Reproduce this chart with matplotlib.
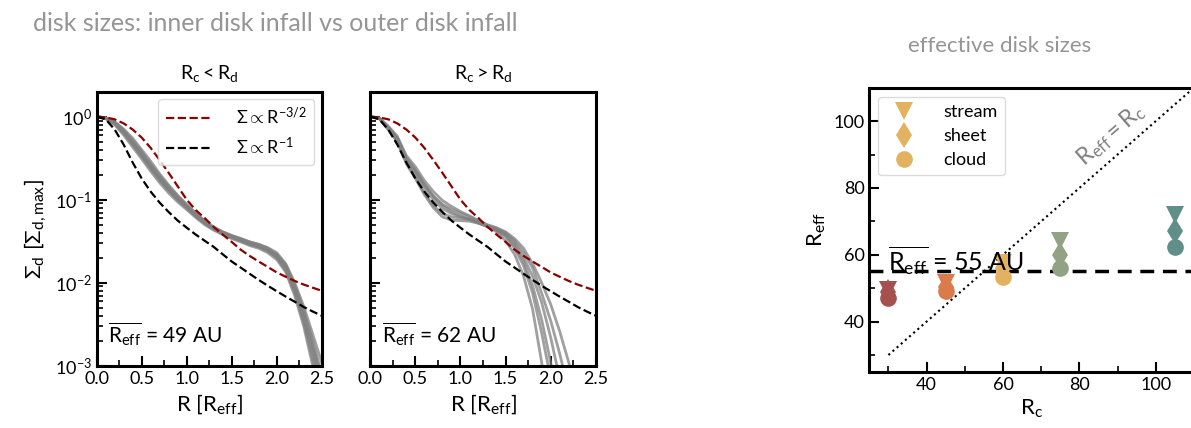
import numpy as np
import matplotlib
matplotlib.use("Agg")
import matplotlib.pyplot as plt
from matplotlib.ticker import MultipleLocator, LogLocator, NullFormatter

plt.rcParams['font.family'] = ['Lato', 'DejaVu Sans']
plt.rcParams['mathtext.fontset'] = 'custom'
plt.rcParams['mathtext.rm'] = 'Lato'
plt.rcParams['mathtext.it'] = 'Lato'
plt.rcParams['mathtext.bf'] = 'Lato:bold'

# radial grid [R_eff]
r_grid = [0.0, 0.1, 0.2, 0.3, 0.4, 0.5, 0.6, 0.7, 0.8, 0.9, 1.0, 1.1, 1.2,
          1.3, 1.4, 1.5, 1.6, 1.7, 1.8, 1.9, 2.0, 2.1, 2.2, 2.3, 2.4, 2.5]

# reference power-law profiles
sigma_r15 = [1.0, 0.98, 0.93, 0.83, 0.70, 0.56, 0.42, 0.30, 0.21, 0.145, 0.100,
             0.075, 0.060, 0.047, 0.038, 0.031, 0.025, 0.021, 0.018, 0.0155,
             0.0133, 0.0118, 0.0105, 0.0095, 0.0087, 0.0080]
sigma_r1 = [1.0, 0.93, 0.70, 0.46, 0.28, 0.18, 0.125, 0.092, 0.071, 0.056, 0.046,
            0.038, 0.032, 0.027, 0.022, 0.018, 0.0152, 0.0128, 0.0108, 0.0092,
            0.0079, 0.0068, 0.0059, 0.0051, 0.0045, 0.0040]

# simulated profiles, R_c < R_d
inner_profiles = [
    [1.0, 0.96, 0.84, 0.66, 0.49, 0.35, 0.25, 0.18, 0.135, 0.104, 0.082, 0.065, 0.053,
     0.045, 0.040, 0.036, 0.033, 0.030, 0.028, 0.025, 0.021, 0.0155, 0.0085, 0.0040, 0.0016, 0.0006],
    [1.0, 0.95, 0.82, 0.63, 0.46, 0.33, 0.235, 0.17, 0.128, 0.099, 0.079, 0.063, 0.052,
     0.044, 0.039, 0.035, 0.032, 0.029, 0.027, 0.024, 0.020, 0.014, 0.0075, 0.0033, 0.0012, 0.0004],
    [1.0, 0.97, 0.86, 0.69, 0.52, 0.38, 0.27, 0.195, 0.145, 0.11, 0.086, 0.068, 0.055,
     0.046, 0.041, 0.037, 0.034, 0.031, 0.029, 0.026, 0.022, 0.0165, 0.0095, 0.0047, 0.0020, 0.0008],
    [1.0, 0.96, 0.83, 0.64, 0.47, 0.34, 0.245, 0.178, 0.132, 0.101, 0.080, 0.064, 0.052,
     0.044, 0.039, 0.035, 0.032, 0.029, 0.027, 0.0245, 0.0205, 0.0148, 0.0080, 0.0036, 0.0014, 0.0005],
    [1.0, 0.95, 0.80, 0.60, 0.43, 0.31, 0.22, 0.16, 0.12, 0.094, 0.076, 0.061, 0.050,
     0.043, 0.038, 0.034, 0.031, 0.028, 0.026, 0.023, 0.019, 0.0135, 0.0070, 0.0030, 0.0010, 0.0003],
    [1.0, 0.97, 0.87, 0.71, 0.55, 0.40, 0.29, 0.205, 0.15, 0.113, 0.088, 0.069, 0.056,
     0.047, 0.041, 0.037, 0.034, 0.031, 0.029, 0.0265, 0.023, 0.017, 0.010, 0.0052, 0.0024, 0.0011],
    [1.0, 0.96, 0.85, 0.67, 0.50, 0.36, 0.26, 0.185, 0.138, 0.106, 0.083, 0.066, 0.054,
     0.045, 0.040, 0.036, 0.033, 0.030, 0.028, 0.0255, 0.0215, 0.016, 0.009, 0.0043, 0.0018, 0.0007],
]

# simulated profiles, R_c > R_d
outer_profiles = [
    [1.0, 0.95, 0.70, 0.50, 0.28, 0.19, 0.12, 0.085, 0.068, 0.062, 0.060, 0.058, 0.054,
     0.048, 0.041, 0.032, 0.022, 0.012, 0.0048, 0.0011, 0.0002],
    [1.0, 0.96, 0.73, 0.53, 0.30, 0.21, 0.14, 0.10, 0.078, 0.068, 0.062, 0.058, 0.053,
     0.048, 0.043, 0.036, 0.026, 0.016, 0.0075, 0.0025, 0.0007],
    [1.0, 0.96, 0.75, 0.56, 0.32, 0.23, 0.155, 0.11, 0.085, 0.072, 0.064, 0.058, 0.052,
     0.047, 0.043, 0.037, 0.028, 0.018, 0.0092, 0.0036, 0.0011, 0.0002],
    [1.0, 0.95, 0.70, 0.50, 0.27, 0.18, 0.115, 0.08, 0.062, 0.057, 0.056, 0.055, 0.052,
     0.048, 0.044, 0.039, 0.030, 0.020, 0.012, 0.0058, 0.0022, 0.0007],
    [1.0, 0.96, 0.74, 0.54, 0.31, 0.22, 0.15, 0.11, 0.088, 0.077, 0.069, 0.062, 0.055,
     0.049, 0.045, 0.040, 0.032, 0.023, 0.015, 0.0075, 0.0035, 0.0014, 0.0005],
    [1.0, 0.97, 0.77, 0.58, 0.34, 0.25, 0.17, 0.125, 0.098, 0.083, 0.072, 0.064, 0.056,
     0.050, 0.046, 0.041, 0.034, 0.026, 0.017, 0.010, 0.0055, 0.0026, 0.0011, 0.0004],
]

# effective disk sizes
rc_values = [30, 45, 60, 75, 105]
reff_stream = [49.5, 51.5, 57.5, 64.0, 72.0]
reff_sheet = [49.0, 50.5, 56.0, 60.0, 67.0]
reff_cloud = [47.2, 49.2, 53.3, 56.1, 62.3]
rc_colors = ['#a5524f', '#d97c4a', '#e2b260', '#91a384', '#608f89']
reff_mean = 55

fig = plt.figure(figsize=(11.91, 4.28), dpi=100)
ax1 = fig.add_axes([0.0812, 0.1456, 0.1889, 0.6401])
ax2 = fig.add_axes([0.3109, 0.1456, 0.1893, 0.6401])
ax3 = fig.add_axes([0.7299, 0.1315, 0.2726, 0.6636])

panels = [(ax1, inner_profiles, r'$\mathrm{R_c < R_d}$', 49),
          (ax2, outer_profiles, r'$\mathrm{R_c > R_d}$', 62)]
for ax, profiles, title, reff in panels:
    for prof in profiles:
        ax.plot(r_grid[:len(prof)], prof, color='gray', alpha=0.75, lw=2)
    ax.plot(r_grid, sigma_r15, '--', color='darkred', lw=1.6, label=r'$\Sigma \propto \mathrm{R^{-3/2}}$')
    ax.plot(r_grid, sigma_r1, '--', color='black', lw=1.6, label=r'$\Sigma \propto \mathrm{R^{-1}}$')
    ax.set_yscale('log')
    ax.set_xlim(0, 2.5)
    ax.set_ylim(1e-3, 2)
    ax.set_title(title, fontsize=14, pad=9)
    ax.set_xlabel(r'R [$\mathrm{R_{eff}}$]', fontsize=16)
    ax.xaxis.set_major_locator(MultipleLocator(0.5))
    ax.xaxis.set_minor_locator(MultipleLocator(0.25))
    ax.yaxis.set_major_locator(LogLocator(base=10, numticks=10))
    ax.yaxis.set_minor_locator(LogLocator(base=10, subs=np.arange(2, 10), numticks=10))
    ax.yaxis.set_minor_formatter(NullFormatter())
    ax.tick_params(which='both', direction='in', labelsize=13)
    ax.tick_params(which='major', length=7, width=1.5)
    ax.tick_params(which='minor', length=4, width=1.2)
    for sp in ax.spines.values():
        sp.set_linewidth(2.2)
    ax.text(0.05, 0.085, r'$\overline{\mathrm{R_{eff}}}$ = %d AU' % reff, transform=ax.transAxes,
            fontsize=15)

ax1.set_ylabel(r'$\Sigma_\mathrm{d}\ [\Sigma_\mathrm{d,max}]$', fontsize=16)
ax2.tick_params(labelleft=False)
ax1.legend(loc='upper right', fontsize=13, handlelength=2.5, handletextpad=1.4,
           borderaxespad=0.4, edgecolor='lightgray')

# right panel
ax3.plot([30, 110], [30, 110], ':', color='black', lw=1.5)
ax3.axhline(reff_mean, ls='--', color='black', lw=2.5, dashes=(4, 2.5))
for i in range(len(rc_values)):
    ax3.plot(rc_values[i], reff_stream[i], 'v', color=rc_colors[i], ms=12.5, mew=0)
    ax3.plot(rc_values[i], reff_sheet[i], 'd', color=rc_colors[i], ms=13, mew=0)
    ax3.plot(rc_values[i], reff_cloud[i], 'o', color=rc_colors[i], ms=12, mew=0)
ax3.plot([], [], 'v', color=rc_colors[2], ms=12.5, mew=0, label='stream')
ax3.plot([], [], 'd', color=rc_colors[2], ms=13, mew=0, label='sheet')
ax3.plot([], [], 'o', color=rc_colors[2], ms=12, mew=0, label='cloud')
ax3.legend(loc='upper left', fontsize=13, edgecolor='lightgray', borderaxespad=0.5,
           handletextpad=1.2, labelspacing=0.45)
ax3.text(30, 55.3, r'$\overline{\mathrm{R_{eff}}}$ = %d AU' % reff_mean, fontsize=18)
ax3.text(88.3, 95.8, r'$\mathrm{R_{eff} = R_c}$', color='gray', fontsize=17,
         rotation=41, ha='center', va='center', rotation_mode='anchor')
ax3.set_xlim(25, 110)
ax3.set_ylim(25, 110)
ax3.set_xlabel(r'$\mathrm{R_c}$', fontsize=16)
ax3.set_ylabel(r'$\mathrm{R_{eff}}$', fontsize=16)
ax3.xaxis.set_major_locator(MultipleLocator(20))
ax3.xaxis.set_minor_locator(MultipleLocator(10))
ax3.yaxis.set_major_locator(MultipleLocator(20))
ax3.yaxis.set_minor_locator(MultipleLocator(10))
ax3.tick_params(which='both', direction='in', labelsize=13)
ax3.tick_params(which='major', length=7, width=1.5)
ax3.tick_params(which='minor', length=4, width=1.2)
for sp in ax3.spines.values():
    sp.set_linewidth(2.2)

fig.text(0.231, 0.945, 'disk sizes: inner disk infall vs outer disk infall',
         color='#959595', fontsize=18, ha='center', va='center')
fig.text(0.839, 0.893, 'effective disk sizes', color='#959595', fontsize=16,
         ha='center', va='center')

fig.savefig('out.png', dpi=100)
